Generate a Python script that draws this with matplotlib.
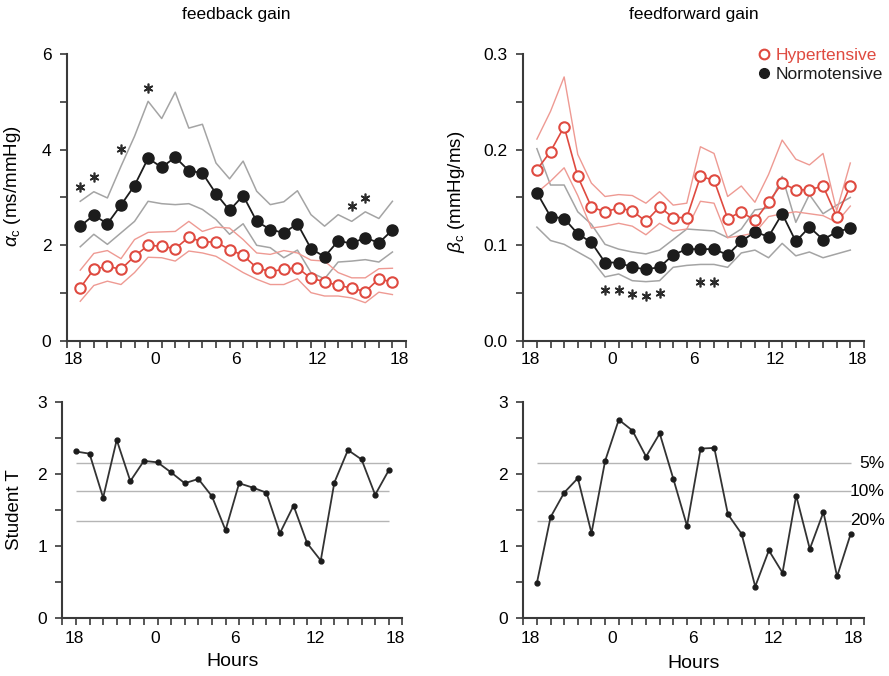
"""Baroreflex feedback / feedforward gain over 24 h, hypertensive vs normotensive."""

import matplotlib.pyplot as plt
import numpy as np
from matplotlib.lines import Line2D

plt.rcParams["font.family"] = ["Liberation Sans", "DejaVu Sans"]
plt.rcParams["mathtext.fontset"] = "custom"
plt.rcParams["mathtext.rm"] = "Liberation Sans"
plt.rcParams["mathtext.it"] = "Liberation Sans:italic"

# hours counted from 18:00, one value per hour (plotted mid-hour)
HOURS = np.arange(24) + 0.5
HOUR_LABELS = ["18", "0", "6", "12", "18"]

# feedback gain alpha_c (ms/mmHg)
alpha_norm = [2.40, 2.63, 2.45, 2.84, 3.25, 3.82, 3.63, 3.84, 3.56, 3.51, 3.08, 2.73,
              3.04, 2.50, 2.33, 2.26, 2.45, 1.93, 1.76, 2.09, 2.04, 2.16, 2.05, 2.32]
alpha_norm_hi = [2.92, 3.12, 2.99, 3.65, 4.28, 5.01, 4.65, 5.20, 4.45, 4.53, 3.72, 3.39,
                 3.76, 3.13, 2.85, 2.91, 3.14, 2.64, 2.40, 2.64, 2.50, 2.70, 2.56, 2.92]
alpha_norm_lo = [1.97, 2.23, 2.02, 2.26, 2.50, 2.92, 2.87, 2.85, 2.87, 2.75, 2.54, 2.23,
                 2.45, 2.00, 1.95, 1.74, 1.90, 1.43, 1.30, 1.65, 1.67, 1.70, 1.65, 1.86]
alpha_hyp = [1.11, 1.50, 1.56, 1.50, 1.77, 2.00, 1.98, 1.93, 2.17, 2.07, 2.07, 1.91,
             1.79, 1.53, 1.45, 1.50, 1.53, 1.31, 1.24, 1.16, 1.11, 1.03, 1.30, 1.23]
alpha_hyp_hi = [1.48, 1.83, 1.89, 1.72, 2.12, 2.27, 2.28, 2.29, 2.50, 2.29, 2.38, 2.36,
                2.12, 1.84, 1.81, 1.89, 1.84, 1.69, 1.67, 1.43, 1.32, 1.32, 1.51, 1.52]
alpha_hyp_lo = [0.83, 1.16, 1.25, 1.18, 1.43, 1.75, 1.74, 1.67, 1.88, 1.84, 1.77, 1.60,
                1.43, 1.29, 1.18, 1.18, 1.30, 1.01, 0.94, 0.94, 0.90, 0.80, 1.02, 0.97]
alpha_star_hours = [0.5, 1.5, 3.5, 5.5, 20.5, 21.5]
alpha_star_y = [3.22, 3.42, 4.01, 5.29, 2.82, 2.98]

# feedforward gain beta_c (mmHg/ms)
beta_norm = [0.155, 0.130, 0.128, 0.112, 0.103, 0.082, 0.082, 0.077, 0.075, 0.077, 0.090, 0.096,
             0.096, 0.096, 0.090, 0.104, 0.114, 0.109, 0.133, 0.104, 0.119, 0.106, 0.114, 0.118]
beta_norm_hi = [0.201, 0.163, 0.163, 0.135, 0.122, 0.101, 0.096, 0.093, 0.091, 0.095, 0.106, 0.117,
                0.116, 0.115, 0.108, 0.117, 0.137, 0.139, 0.172, 0.124, 0.153, 0.133, 0.142, 0.150]
beta_norm_lo = [0.119, 0.105, 0.101, 0.093, 0.085, 0.067, 0.070, 0.063, 0.062, 0.063, 0.077, 0.079,
                0.080, 0.080, 0.077, 0.092, 0.095, 0.087, 0.102, 0.089, 0.093, 0.087, 0.091, 0.095]
beta_hyp = [0.179, 0.198, 0.224, 0.172, 0.140, 0.135, 0.139, 0.136, 0.125, 0.140, 0.129, 0.129,
            0.172, 0.168, 0.128, 0.135, 0.126, 0.145, 0.165, 0.158, 0.158, 0.162, 0.130, 0.162]
beta_hyp_hi = [0.211, 0.240, 0.276, 0.195, 0.165, 0.151, 0.153, 0.152, 0.144, 0.156, 0.142, 0.144,
               0.203, 0.196, 0.151, 0.162, 0.145, 0.174, 0.210, 0.190, 0.184, 0.196, 0.136, 0.186]
beta_hyp_lo = [0.155, 0.167, 0.181, 0.152, 0.118, 0.120, 0.123, 0.120, 0.111, 0.123, 0.115, 0.117,
               0.146, 0.144, 0.108, 0.110, 0.113, 0.130, 0.133, 0.135, 0.133, 0.131, 0.124, 0.141]
beta_star_hours = [5.5, 6.5, 7.5, 8.5, 9.5, 12.5, 13.5]
beta_star_y = [0.053, 0.053, 0.049, 0.047, 0.050, 0.062, 0.062]

# Student T of the group difference, and critical values
t_alpha = [2.31, 2.28, 1.67, 2.47, 1.90, 2.18, 2.16, 2.02, 1.87, 1.93, 1.69, 1.22,
           1.87, 1.81, 1.74, 1.18, 1.56, 1.04, 0.80, 1.88, 2.33, 2.20, 1.71, 2.05]
t_beta = [0.49, 1.40, 1.74, 1.94, 1.18, 2.18, 2.75, 2.60, 2.24, 2.56, 1.93, 1.28,
          2.35, 2.36, 1.44, 1.17, 0.44, 0.94, 0.63, 1.70, 0.96, 1.47, 0.58, 1.17]
t_crit = [2.15, 1.76, 1.35]
t_crit_labels = ["5%", "10%", "20%"]

RED = "#df4a40"
RED_LIGHT = "#ee9a93"
GRAY = "#a4a4a4"
BLACK = "#1c1c1c"
AXIS = "#3a3a3a"
TICK_SIZE = 12.5


def style_axes(ax, label_pos, xpad):
    for side in ("top", "right"):
        ax.spines[side].set_visible(False)
    for side in ("left", "bottom"):
        ax.spines[side].set_color(AXIS)
        ax.spines[side].set_linewidth(1.5)
    ax.set_xlim(-0.5, 24.5)
    ax.set_xticks(np.arange(-0.5, 25, 1.0), minor=True)
    ax.set_xticks(label_pos)
    ax.set_xticklabels(HOUR_LABELS)
    ax.tick_params(axis="x", which="major", length=0, pad=xpad, labelsize=TICK_SIZE)
    ax.tick_params(axis="x", which="minor", length=5, width=1.2, color=AXIS)
    ax.tick_params(axis="y", which="both", length=5, width=1.2, color=AXIS,
                   pad=6, labelsize=TICK_SIZE)


def gain_panel(ax, norm, norm_hi, norm_lo, hyp, hyp_hi, hyp_lo, star_x, star_y):
    for band in (norm_hi, norm_lo):
        ax.plot(HOURS, band, color=GRAY, lw=1.1)
    for band in (hyp_hi, hyp_lo):
        ax.plot(HOURS, band, color=RED_LIGHT, lw=1.0)
    ax.plot(HOURS, norm, color=BLACK, lw=1.3, marker="o", ms=8,
            mfc=BLACK, mec=BLACK)
    ax.plot(HOURS, hyp, color=RED, lw=1.2, marker="o", ms=7.5,
            mfc="white", mec=RED, mew=1.5)
    ax.plot(star_x, star_y, ls="none", marker=(6, 2, 0), ms=7,
            mec="#2a2a2a", mew=1.2)


def t_panel(ax, tvals):
    ax.hlines(t_crit, HOURS[0], HOURS[-1], color="#b5b5b5", lw=1.0)
    ax.plot(HOURS, tvals, color="#333333", lw=1.3, marker="o", ms=3.5,
            mfc=BLACK, mec=BLACK)
    ax.set_ylim(0, 3)
    ax.set_yticks([0, 1, 2, 3])
    ax.set_yticks([0.5, 1.5, 2.5], minor=True)


def main():
    fig = plt.figure(figsize=(8.89, 6.76), dpi=100)

    ax_a = fig.add_axes([0.075, 0.4956, 0.3817, 0.4246])
    ax_b = fig.add_axes([0.5886, 0.4956, 0.3832, 0.4246])
    ax_ta = fig.add_axes([0.0701, 0.0854, 0.3825, 0.3204])
    ax_tb = fig.add_axes([0.5886, 0.0854, 0.3837, 0.3204])

    gain_panel(ax_a, alpha_norm, alpha_norm_hi, alpha_norm_lo,
               alpha_hyp, alpha_hyp_hi, alpha_hyp_lo, alpha_star_hours, alpha_star_y)
    ax_a.set_ylim(0, 6)
    ax_a.set_yticks([0, 2, 4, 6])
    ax_a.set_yticks([1, 3, 5], minor=True)
    ax_a.set_ylabel(r"$\alpha_{\rm c}$ (ms/mmHg)", fontsize=13.5)
    ax_a.yaxis.set_label_coords(-0.13, 0.54)
    ax_a.set_title("feedback gain", fontsize=12.5, pad=25)
    style_axes(ax_a, [0, 6, 12, 18, 24], 8)

    gain_panel(ax_b, beta_norm, beta_norm_hi, beta_norm_lo,
               beta_hyp, beta_hyp_hi, beta_hyp_lo, beta_star_hours, beta_star_y)
    ax_b.set_ylim(0, 0.3)
    ax_b.set_yticks([0.0, 0.1, 0.2, 0.3])
    ax_b.set_yticklabels(["0.0", "0.1", "0.2", "0.3"])
    ax_b.set_yticks([0.05, 0.15, 0.25], minor=True)
    ax_b.set_ylabel(r"$\beta_{\rm c}$ (mmHg/ms)", fontsize=13.5)
    ax_b.yaxis.set_label_coords(-0.165, 0.52)
    ax_b.set_title("feedforward gain", fontsize=12.5, pad=25)
    style_axes(ax_b, [0, 6, 12, 18, 24], 8)

    handles = [
        Line2D([], [], ls="none", marker="o", ms=7, mfc="white", mec=RED, mew=1.5),
        Line2D([], [], ls="none", marker="o", ms=7, mfc=BLACK, mec=BLACK),
    ]
    ax_b.legend(handles, ["Hypertensive", "Normotensive"], loc="upper left",
                bbox_to_anchor=(0.67, 1.045), frameon=False, fontsize=12.5,
                handlelength=0.6, handletextpad=0.4, labelspacing=0.2,
                borderaxespad=0, labelcolor=[RED, BLACK])

    t_panel(ax_ta, t_alpha)
    ax_ta.set_ylabel("Student T", fontsize=13.5)
    ax_ta.yaxis.set_label_coords(-0.115, 0.5)
    ax_ta.set_xlabel("Hours", fontsize=14, labelpad=5)
    style_axes(ax_ta, [0.4, 6.3, 12.2, 18.1, 24.0], 9)

    t_panel(ax_tb, t_beta)
    for val, lab in zip(t_crit, t_crit_labels):
        ax_tb.text(26.0, val, lab, ha="right", va="center", fontsize=TICK_SIZE,
                   clip_on=False)
    ax_tb.set_xlabel("Hours", fontsize=14, labelpad=7)
    style_axes(ax_tb, [0, 6, 11.9, 17.8, 23.7], 9)

    fig.savefig("out.png", dpi=100)
    plt.close(fig)


if __name__ == "__main__":
    main()
